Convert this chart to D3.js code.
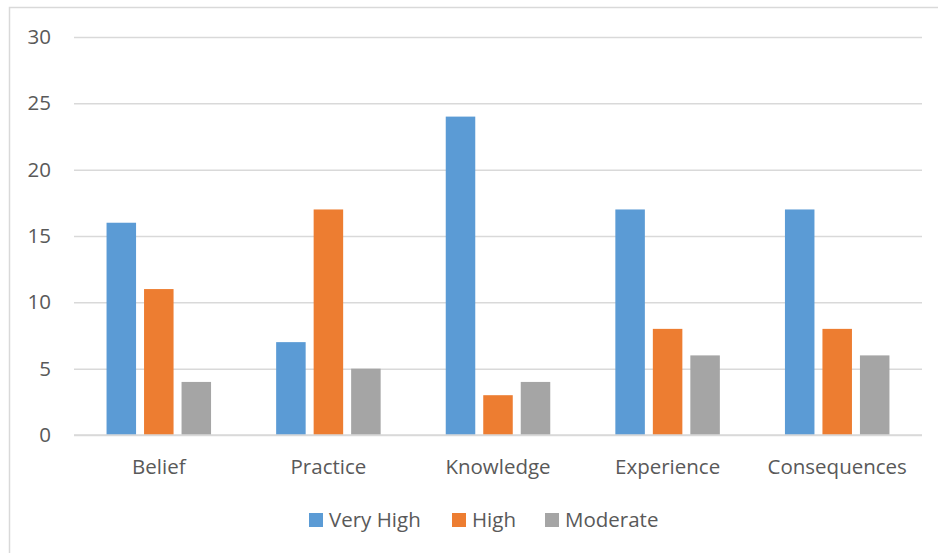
<!DOCTYPE html>
<html>
<head>
<meta charset="utf-8">
<script src="https://cdn.jsdelivr.net/npm/d3@7"></script>
<style>
  body { margin: 0; background: #fff; }
  svg { display: block; }
  svg text { font-family: "Open Sans", "Noto Sans", sans-serif; }
</style>
</head>
<body>
<div class="chart"></div>
<script>
!function () {
	const categories = ["Belief", "Practice", "Knowledge", "Experience", "Consequences"];
	const seriesNames = ["Very High", "High", "Moderate"];
	const veryHigh = [16, 7, 24, 17, 17];
	const high = [11, 17, 3, 8, 8];
	const moderate = [4, 5, 4, 6, 6];
	const yTicks = [0, 5, 10, 15, 20, 25, 30];

	const series = [veryHigh, high, moderate];
	const colors = ["#5B9BD5", "#ED7D31", "#A5A5A5"];

	const width = 938, height = 553;
	const margin = { top: 37, right: 16, bottom: 118, left: 74 };
	const fontSize = "20.5px";

	const svg = d3.select(".chart")
		.append("svg")
		.attr("width", width)
		.attr("height", height);

	// chart frame
	svg.append("path")
		.attr("d", `M9.5,${height} V7.5 H${width}`)
		.attr("fill", "none")
		.attr("stroke", "#d9d9d9")
		.attr("stroke-width", 1.5);

	const x0 = d3.scaleBand()
		.domain(categories)
		.range([margin.left, width - margin.right]);

	const x1 = d3.scaleBand()
		.domain(seriesNames)
		.range([0, x0.bandwidth()])
		.paddingInner(0.213)
		.paddingOuter(0.868);

	const y = d3.scaleLinear()
		.domain([0, 30])
		.range([height - margin.bottom, margin.top]);

	// gridlines + y labels
	svg.append("g")
		.attr("transform", `translate(${margin.left},0)`)
		.call(d3.axisLeft(y).tickValues(yTicks).tickSize(-(width - margin.left - margin.right)).tickPadding(23))
		.call(g => g.select(".domain").remove())
		.call(g => g.selectAll(".tick line").attr("stroke", "#d9d9d9").attr("stroke-width", 1.5))
		.call(g => g.selectAll(".tick text").attr("fill", "#595959").style("font-size", fontSize));

	const rows = categories.map((c, i) => ({ cat: c, vals: series.map((s, j) => ({ key: seriesNames[j], v: s[i], color: colors[j] })) }));

	svg.append("g")
		.selectAll("g")
		.data(rows)
		.join("g")
		.attr("transform", d => `translate(${x0(d.cat)},0)`)
		.selectAll("rect")
		.data(d => d.vals)
		.join("rect")
		.attr("x", d => x1(d.key))
		.attr("y", d => y(d.v))
		.attr("width", x1.bandwidth())
		.attr("height", d => y(0) - y(d.v))
		.attr("fill", d => d.color);

	// baseline
	svg.append("line")
		.attr("x1", margin.left).attr("x2", width - margin.right)
		.attr("y1", y(0)).attr("y2", y(0))
		.attr("stroke", "#d9d9d9").attr("stroke-width", 1.5);

	// category labels
	svg.append("g")
		.attr("transform", `translate(0,${y(0)})`)
		.call(d3.axisBottom(x0).tickSize(0).tickPadding(24))
		.call(g => g.select(".domain").remove())
		.call(g => g.selectAll(".tick text").attr("fill", "#595959").style("font-size", fontSize));

	// legend
	const legendX = [309, 452, 545];
	const legend = svg.append("g")
		.selectAll("g")
		.data(seriesNames)
		.join("g")
		.attr("transform", (d, i) => `translate(${legendX[i]},520)`);
	legend.append("rect")
		.attr("x", 0).attr("y", -7)
		.attr("width", 14).attr("height", 14)
		.attr("fill", (d, i) => colors[i]);
	legend.append("text")
		.attr("x", 20)
		.attr("dy", "0.35em")
		.attr("fill", "#595959")
		.style("font-size", fontSize)
		.text(d => d);
}();
</script>
</body>
</html>
